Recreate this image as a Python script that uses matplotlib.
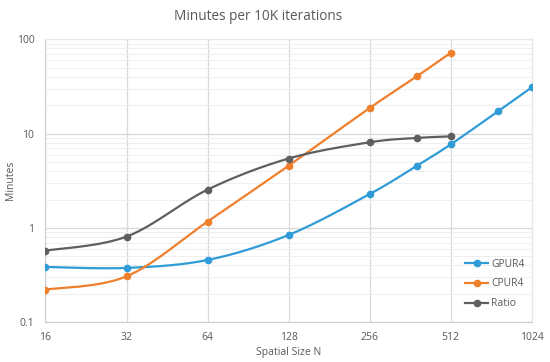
import numpy as np
import matplotlib
matplotlib.use("Agg")
import matplotlib.pyplot as plt
from matplotlib.ticker import FixedLocator, FixedFormatter, LogLocator, NullFormatter

plt.rcParams['font.family'] = ['Open Sans', 'DejaVu Sans']

title = "Minutes per 10K iterations"
x_label = "Spatial Size N"
y_label = "Minutes"

gpu_n = [16, 32, 64, 128, 256, 384, 512, 768, 1024]
gpu_min = [0.386, 0.377, 0.458, 0.843, 2.29, 4.58, 7.7, 17.3, 31.0]

cpu_n = [16, 32, 64, 128, 256, 384, 512]
cpu_min = [0.222, 0.307, 1.17, 4.58, 18.7, 40.7, 72.0]

ratio_n = [16, 32, 64, 128, 256, 384, 512]
ratio_val = [0.575, 0.81, 2.55, 5.45, 8.1, 9.0, 9.36]

x_ticks = [16, 32, 64, 128, 256, 512, 1024]
y_ticks = [0.1, 1, 10, 100]
y_tick_labels = ["0.1", "1", "10", "100"]

series = [
    ("GPUR4", gpu_n, gpu_min, "#2F9BD7"),
    ("CPUR4", cpu_n, cpu_min, "#F07F2C"),
    ("Ratio", ratio_n, ratio_val, "#5F5F5F"),
]


def smooth(xs, ys, steps=30):
    # Catmull-Rom (Excel-style) smoothing in log-log space
    lx = np.log2(np.asarray(xs, float))
    ly = np.log10(np.asarray(ys, float))
    P = np.column_stack([lx, ly])
    n = len(P)
    out = [P[0]]
    for i in range(n - 1):
        p0 = P[i - 1] if i > 0 else P[i]
        p1 = P[i]
        p2 = P[i + 1]
        p3 = P[i + 2] if i + 2 < n else P[i + 1]
        c1 = p1 + (p2 - p0) / 6.0
        c2 = p2 - (p3 - p1) / 6.0
        t = np.linspace(0, 1, steps)[1:, None]
        b = ((1 - t) ** 3) * p1 + 3 * ((1 - t) ** 2) * t * c1 + 3 * (1 - t) * t ** 2 * c2 + t ** 3 * p2
        out.extend(b)
    out = np.array(out)
    return 2 ** out[:, 0], 10 ** out[:, 1]


fig = plt.figure(figsize=(5.5, 3.62), dpi=100)
ax = fig.add_axes([0.0827, 0.1097, 0.967 - 0.0827, 0.8914 - 0.1097])

ax.set_xscale('log', base=2)
ax.set_yscale('log')
ax.set_xlim(16, 1024)
ax.set_ylim(0.1, 100)

ax.xaxis.set_major_locator(FixedLocator(x_ticks))
ax.xaxis.set_major_formatter(FixedFormatter([str(v) for v in x_ticks]))
ax.xaxis.set_minor_locator(FixedLocator([]))
ax.yaxis.set_major_locator(FixedLocator(y_ticks))
ax.yaxis.set_major_formatter(FixedFormatter(y_tick_labels))
ax.yaxis.set_minor_locator(LogLocator(base=10, subs=np.arange(2, 10)))
ax.yaxis.set_minor_formatter(NullFormatter())

ax.grid(True, which='major', axis='both', color='#D9D9D9', linewidth=0.9)
ax.grid(True, which='minor', axis='y', color='#EFEFEF', linewidth=0.7)
ax.set_axisbelow(True)

for s in ['top', 'right']:
    ax.spines[s].set_color('#E6E6E6')
    ax.spines[s].set_linewidth(0.8)
for s in ['left', 'bottom']:
    ax.spines[s].set_color('#D0D0D0')
    ax.spines[s].set_linewidth(0.9)

ax.tick_params(axis='both', which='both', length=0, labelsize=7.5, colors='#595959')
ax.tick_params(axis='x', pad=7)
ax.tick_params(axis='y', pad=8)

for name, xs, ys, col in series:
    sx, sy = smooth(xs, ys)
    ax.plot(sx, sy, color=col, linewidth=1.6, zorder=3)
    ax.plot(xs, ys, linestyle='none', marker='o', markersize=4.5, color=col, zorder=4)
    ax.plot([], [], color=col, linewidth=1.6, marker='o', markersize=4.5, label=name)

leg = ax.legend(loc='lower right', bbox_to_anchor=(1.0, 0.02), frameon=False, fontsize=7.5,
                handlelength=2.2, handletextpad=0.3, labelspacing=0.85, borderaxespad=0.3)
for t in leg.get_texts():
    t.set_color('#595959')

fig.text(258 / 550, 1 - 16 / 362, title, ha='center', va='center', fontsize=9.8, color='#595959')
fig.text(288.7 / 550, 1 - 352 / 362, x_label, ha='center', va='center', fontsize=7.5, color='#595959')
fig.text(10 / 550, 1 - 180 / 362, y_label, ha='center', va='center', rotation=90,
         fontsize=7.5, color='#595959')

fig.savefig('out.png', dpi=100)
